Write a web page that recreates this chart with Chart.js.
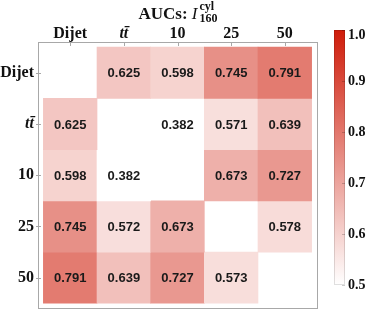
<!DOCTYPE html>
<html>
<head>
<meta charset="utf-8">
<script src="https://cdn.jsdelivr.net/npm/chart.js@4"></script>
<style>
  html, body { margin: 0; padding: 0; background: #fff; }
  #wrap { width: 374px; height: 322px; }
</style>
</head>
<body>
<div id="wrap"><canvas id="chart"></canvas></div>
<script>
// sample names, same order on both axes
const labels = ['Dijet', 'tt\u0304', '10', '25', '50'];

// AUC per row (null = diagonal, left empty)
const rowDijet = [null, 0.625, 0.598, 0.745, 0.791];
const rowTT    = [0.625, null, 0.382, 0.571, 0.639];
const row10    = [0.598, 0.382, null, 0.673, 0.727];
const row25    = [0.745, 0.572, 0.673, null, 0.578];
const row50    = [0.791, 0.639, 0.727, 0.573, null];
const rows = [rowDijet, rowTT, row10, row25, row50];

const barTicks = [0.5, 0.6, 0.7, 0.8, 0.9, 1.0];
const colorMin = 0.5, colorMax = 1.0;

const LOW = [255, 255, 255];
const HIGH = [207, 28, 10];

function cellColor(v) {
    let t = (v - colorMin) / (colorMax - colorMin);
    t = Math.max(0, Math.min(1, t));
    const c = LOW.map((l, i) => Math.round(l + (HIGH[i] - l) * t));
    return 'rgb(' + c.join(',') + ')';
}

const datasets = rows.map((vals, r) => {
    const data = [];
    const colors = [];
    vals.forEach((v, c) => {
        if (v === null) return;
        data.push({ x: c, y: [r - 0.5, r + 0.5], v: v });
        colors.push(cellColor(v));
    });
    return {
        data: data,
        backgroundColor: colors,
        borderWidth: 0,
        barPercentage: 1,
        categoryPercentage: 1,
        grouped: false
    };
});

const serif = '"Liberation Serif", "Times New Roman", serif';
const fixTicks = axis => { axis.ticks = labels.map((_, i) => ({ value: i })); };

// frame, small inward ticks, numbers inside cells
const cellPlugin = {
    id: 'cells',
    afterDatasetsDraw(chart) {
        const ctx = chart.ctx;
        ctx.save();
        ctx.font = 'bold 13px "Liberation Sans", Arial, sans-serif';
        ctx.fillStyle = '#1a1a1a';
        ctx.textAlign = 'center';
        ctx.textBaseline = 'middle';
        chart.data.datasets.forEach((ds, i) => {
            chart.getDatasetMeta(i).data.forEach((el, j) => {
                ctx.fillText(ds.data[j].v.toFixed(3), el.x, (el.y + el.base) / 2 + 1);
            });
        });
        ctx.restore();
    },
    afterDraw(chart) {
        const ctx = chart.ctx;
        const a = chart.chartArea;
        ctx.save();
        ctx.strokeStyle = '#a8a8a8';
        ctx.lineWidth = 1;
        ctx.strokeRect(Math.round(a.left) + 0.5, Math.round(a.top) + 0.5,
            Math.round(a.right - a.left), Math.round(a.bottom - a.top));
        ctx.beginPath();
        labels.forEach((_, i) => {
            const x = Math.round(chart.scales.x.getPixelForValue(i)) + 0.5;
            ctx.moveTo(x, a.top);
            ctx.lineTo(x, a.top + 4);
            const y = Math.round(chart.scales.y.getPixelForValue(i)) + 0.5;
            ctx.moveTo(a.left - 2, y);
            ctx.lineTo(a.left + 3, y);
        });
        ctx.stroke();
        ctx.restore();
    }
};

// colour bar on the right
const colorBarPlugin = {
    id: 'colorBar',
    afterDraw(chart) {
        const ctx = chart.ctx;
        const x0 = 334, w = 11;
        const yLow = 285, yHigh = 30;
        const toY = v => yLow - (v - colorMin) / (colorMax - colorMin) * (yLow - yHigh);
        ctx.save();
        const g = ctx.createLinearGradient(0, yLow, 0, yHigh);
        g.addColorStop(0, cellColor(colorMin));
        g.addColorStop(1, cellColor(colorMax));
        ctx.fillStyle = g;
        ctx.fillRect(x0, yHigh, w, yLow - yHigh);
        ctx.strokeStyle = 'rgba(0,0,0,0.12)';
        ctx.strokeRect(x0 + 0.5, yHigh + 0.5, w - 1, yLow - yHigh - 1);
        ctx.beginPath();
        barTicks.forEach(v => {
            const y = Math.round(toY(v)) + 0.5;
            ctx.moveTo(x0 + w - 3, y);
            ctx.lineTo(x0 + w, y);
        });
        ctx.strokeStyle = 'rgba(0,0,0,0.2)';
        ctx.stroke();
        ctx.font = 'bold 14px ' + serif;
        ctx.fillStyle = '#111';
        ctx.textAlign = 'left';
        ctx.textBaseline = 'middle';
        barTicks.forEach(v => {
            ctx.fillText(v.toFixed(1), x0 + w + 3, Math.max(toY(v), 35));
        });
        ctx.restore();
    }
};

// "AUCs: I^cyl_160" title
const titlePlugin = {
    id: 'mathTitle',
    afterDraw(chart) {
        const ctx = chart.ctx;
        ctx.save();
        ctx.fillStyle = '#111';
        ctx.textBaseline = 'alphabetic';
        const main = 'bold 17px ' + serif;
        const ital = 'italic 17px ' + serif;
        const small = 'bold 12px ' + serif;
        ctx.font = main;  const w1 = ctx.measureText('AUCs: ').width;
        ctx.font = ital;  const w2 = ctx.measureText('I').width;
        ctx.font = small; const w3 = Math.max(ctx.measureText('cyl').width, ctx.measureText('160').width);
        let x = 178 - (w1 + w2 + 2 + w3) / 2;
        const base = 19;
        ctx.font = main;  ctx.fillText('AUCs: ', x, base); x += w1;
        ctx.font = ital;  ctx.fillText('I', x, base); x += w2 + 2;
        ctx.font = small;
        ctx.fillText('cyl', x, base - 9);
        ctx.fillText('160', x, base + 3);
        ctx.restore();
    }
};

new Chart(document.getElementById('chart'), {
    type: 'bar',
    data: { datasets: datasets },
    options: {
        responsive: true,
        maintainAspectRatio: false,
        animation: false,
        events: [],
        layout: { padding: { top: 0, right: 57, bottom: 2, left: 0 } },
        scales: {
            x: {
                type: 'linear',
                position: 'top',
                min: -0.6,
                max: 4.6,
                offset: false,
                afterBuildTicks: fixTicks,
                afterFit: s => { s.height = 42; },
                grid: { display: false, drawTicks: false },
                border: { display: false },
                ticks: {
                    padding: -1,
                    color: '#111',
                    maxRotation: 0,
                    autoSkip: false,
                    font: c => ({ family: serif, size: 16, weight: 'bold', style: c.index === 1 ? 'italic' : 'normal' }),
                    callback: v => labels[v]
                }
            },
            y: {
                type: 'linear',
                reverse: true,
                min: -0.6,
                max: 4.6,
                afterBuildTicks: fixTicks,
                afterFit: s => { s.width = 38; },
                grid: { display: false, drawTicks: false },
                border: { display: false },
                ticks: {
                    padding: 4,
                    color: '#111',
                    autoSkip: false,
                    font: c => ({ family: serif, size: 16, weight: 'bold', style: c.index === 1 ? 'italic' : 'normal' }),
                    callback: v => labels[v]
                }
            }
        },
        plugins: {
            legend: { display: false },
            tooltip: { enabled: false },
            title: { display: false }
        }
    },
    plugins: [cellPlugin, colorBarPlugin, titlePlugin]
});
</script>
</body>
</html>
